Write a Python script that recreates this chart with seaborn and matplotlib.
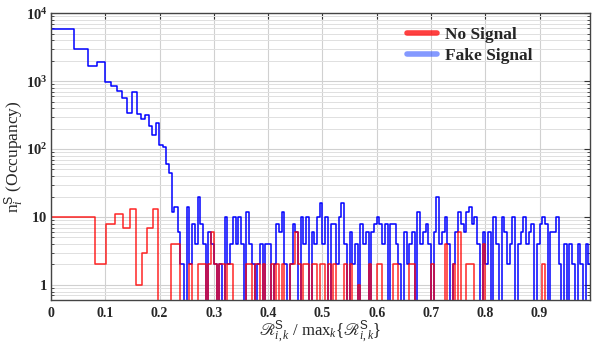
import numpy as np
import pandas as pd
import matplotlib
matplotlib.use("Agg")
import matplotlib.pyplot as plt
import seaborn as sns
from matplotlib.lines import Line2D
from matplotlib.ticker import FixedLocator, LogLocator, NullFormatter

# ---------------- data ----------------
blue_head_edges = [0.0, 0.0428, 0.0685, 0.0856, 0.099, 0.111, 0.1217, 0.1315, 0.140,
                   0.150, 0.158, 0.165, 0.1725, 0.180, 0.186, 0.1927, 0.1994, 0.2068,
                   0.2116, 0.217, 0.223, 0.2275, 0.2336, 0.238, 0.240]
blue_head_counts = [5750, 2960, 1680, 1910, 956, 855, 720, 556, 335, 695, 326, 274,
                    318, 220, 159, 240, 113, 108, 61, 45, 12, 14, 6, 2]

red_head_edges = [0.0, 0.082, 0.102, 0.1187, 0.1327, 0.1455, 0.157, 0.1675, 0.1766,
                  0.1877, 0.1968, 0.2218, 0.238, 0.240]
red_head_counts = [10, 2, 8, 11, 7, 13, 1, 3, 7, 13, 0, 4, 0]

tail_start = 0.24
tail_width = 0.005
blue_tail_counts = [
    2, 0, 14, 2, 8, 4, 20, 8, 4, 0,      # 0.240 - 0.285
    6, 4, 2, 0, 2, 0, 10, 2, 4, 10,      # 0.290 - 0.335
    4, 10, 4, 0, 12, 4, 2, 0, 2, 4,      # 0.340 - 0.385
    0, 4, 4, 0, 2, 8, 6, 12, 2, 0,       # 0.390 - 0.435
    2, 8, 6, 0, 10, 4, 10, 0, 6, 4,      # 0.440 - 0.485
    10, 16, 4, 10, 0, 8, 8, 2, 10, 16,   # 0.490 - 0.535
    4, 0, 6, 2, 4, 0, 8, 4, 6, 0,        # 0.540 - 0.585
    6, 8, 10, 8, 4, 8, 0, 8, 8, 4,       # 0.590 - 0.635
    2, 0, 6, 2, 4, 6, 0, 12, 4, 6,       # 0.640 - 0.685
    8, 4, 0, 6, 20, 4, 6, 10, 4, 0,      # 0.690 - 0.735
    2, 6, 12, 8, 6, 12, 14, 8, 10, 4,    # 0.740 - 0.785
    0, 6, 2, 6, 0, 10, 4, 0, 10, 6,      # 0.790 - 0.835
    2, 4, 10, 0, 4, 6, 10, 4, 6, 8,      # 0.840 - 0.885
    0, 4, 8, 10, 8, 0, 6, 6, 10, 2,      # 0.890 - 0.935
    0, 4, 0, 4, 2, 0, 4, 2, 0, 4,        # 0.940 - 0.985
    2,                                   # 0.990
]
red_tail_counts = [
    0, 0, 0, 2, 0, 0, 2, 2, 2, 0,        # 0.240 - 0.285
    2, 6, 2, 0, 2, 2, 0, 2, 2, 0,        # 0.290 - 0.335
    0, 0, 0, 0, 2, 2, 0, 2, 2, 0,        # 0.340 - 0.385
    2, 0, 0, 2, 0, 2, 0, 2, 0, 0,        # 0.390 - 0.435
    2, 2, 6, 2, 0, 2, 2, 0, 2, 2,        # 0.440 - 0.485
    0, 2, 2, 0, 2, 0, 2, 0, 0, 0,        # 0.490 - 0.535
    2, 0, 2, 0, 0, 1, 0, 0, 0, 2,        # 0.540 - 0.585
    0, 0, 2, 2, 0, 0, 0, 0, 2, 2,        # 0.590 - 0.635
    0, 0, 0, 0, 2, 2, 0, 0, 0, 0,        # 0.640 - 0.685
    0, 0, 2, 0, 0, 0, 0, 4, 0, 0,        # 0.690 - 0.735
    2, 0, 6, 0, 0, 2, 2, 2, 0, 0,        # 0.740 - 0.785
    0, 4, 0, 0, 0, 0, 0, 0, 0, 0,        # 0.790 - 0.835
    0, 0, 0, 0, 0, 0, 0, 0, 0, 0,        # 0.840 - 0.885
    0, 0, 0, 2, 0, 0, 0, 0, 0, 0,        # 0.890 - 0.935
    0, 0, 0, 0, 0, 0, 0, 0, 0, 0,        # 0.940 - 0.985
    0,                                   # 0.990
]

series_labels = ["No Signal", "Fake Signal"]
x_tick_values = [0, 0.1, 0.2, 0.3, 0.4, 0.5, 0.6, 0.7, 0.8, 0.9]
x_tick_labels = ["0", "0.1", "0.2", "0.3", "0.4", "0.5", "0.6", "0.7", "0.8", "0.9"]
y_tick_values = [1, 10, 100, 1000, 10000]
y_tick_labels = [r"$\mathbf{1}$", r"$\mathbf{10}$", r"$\mathbf{10^{2}}$",
                 r"$\mathbf{10^{3}}$", r"$\mathbf{10^{4}}$"]


def stairs_frame(head_edges, head_counts, tail_counts):
    tail_edges = tail_start + tail_width * np.arange(len(tail_counts) + 1)
    edges = np.concatenate([np.asarray(head_edges[:-1], float), tail_edges])
    counts = np.concatenate([np.asarray(head_counts, float),
                             np.asarray(tail_counts, float)])
    y = np.append(counts, counts[-1])
    return pd.DataFrame({"x": edges, "y": y})


blue_df = stairs_frame(blue_head_edges, blue_head_counts, blue_tail_counts)
red_df = stairs_frame(red_head_edges, red_head_counts, red_tail_counts)

# ---------------- style ----------------
sns.set_style("white")
plt.rcParams["font.family"] = ["Liberation Serif", "DejaVu Serif"]
plt.rcParams["mathtext.fontset"] = "custom"
plt.rcParams["mathtext.rm"] = "Liberation Serif"
plt.rcParams["mathtext.it"] = "Liberation Serif:italic"
plt.rcParams["mathtext.bf"] = "Liberation Serif:bold"
plt.rcParams["mathtext.sf"] = "Liberation Sans"
plt.rcParams["mathtext.fallback"] = "stix"

fig = plt.figure(figsize=(5.92, 3.45), dpi=100)
ax = fig.add_axes([0.0861, 0.1304, 0.9105, 0.8316])

sns.lineplot(data=blue_df, x="x", y="y", drawstyle="steps-post", estimator=None,
             sort=False, color="#0000ff", linewidth=1.1, ax=ax, legend=False)
sns.lineplot(data=red_df, x="x", y="y", drawstyle="steps-post", estimator=None,
             sort=False, color="#ff0000", alpha=0.85, linewidth=1.1, ax=ax,
             legend=False)

ax.set_yscale("log")
ax.set_ylim(0.6, 10000)
ax.set_xlim(0, 0.993)

ax.xaxis.set_major_locator(FixedLocator(x_tick_values))
ax.set_xticklabels(x_tick_labels, fontsize=10, fontweight="bold")
ax.yaxis.set_major_locator(FixedLocator(y_tick_values))
ax.set_yticklabels(y_tick_labels, fontsize=10.5)
ax.yaxis.set_minor_locator(LogLocator(base=10, subs=np.arange(2, 10)))
ax.yaxis.set_minor_formatter(NullFormatter())

ax.grid(True, which="major", axis="both", color="#d0d0d0", linewidth=0.8)
ax.grid(True, which="minor", axis="y", color="#e0e0e0", linewidth=0.7)
ax.set_axisbelow(True)

ax.tick_params(axis="both", which="major", direction="in", length=4, width=0.8,
               top=True, right=True, color="#333333")
ax.tick_params(axis="x", which="major", pad=5)
ax.tick_params(axis="y", which="major", pad=2.5)
ax.tick_params(axis="y", which="minor", direction="in", length=2.5, width=0.6,
               left=True, right=True, color="#333333")
for s in ax.spines.values():
    s.set_color("#444444")
    s.set_linewidth(1.0)

ax.set_xlabel("$\u211b_{i,k}^{\\mathsf{S}}$ / max$_k\\{\u211b_{i,k}^{\\mathsf{S}}\\}$",
              fontsize=12, labelpad=-1)
ax.set_ylabel(r"n$_i^{\mathsf{S}}$ (Occupancy)", fontsize=12.5)
ax.yaxis.set_label_coords(-0.047, 0.5)

handles = [Line2D([0], [0], color="#ff0000", alpha=0.75, linewidth=4),
           Line2D([0], [0], color="#3355ff", alpha=0.6, linewidth=4)]
ax.legend(handles, series_labels, loc="upper left", bbox_to_anchor=(0.632, 1.005),
          frameon=False, prop={"weight": "bold", "size": 12.5}, handlelength=1.7,
          handletextpad=0.5, labelspacing=0.25)

fig.savefig("out.png", dpi=100)
